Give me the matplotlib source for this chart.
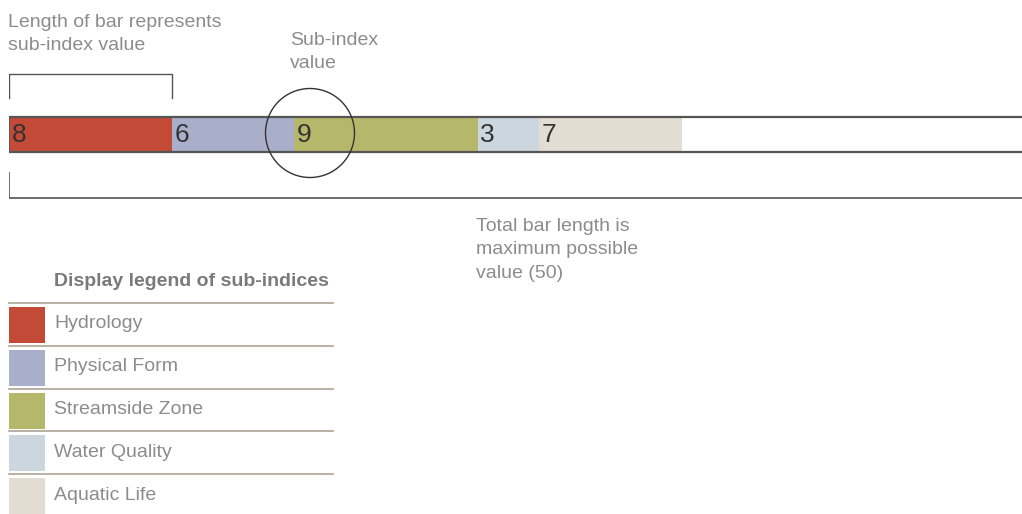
import matplotlib.pyplot as plt
from matplotlib.patches import Circle, Rectangle

# sub-index data
categories = ['Hydrology', 'Physical Form', 'Streamside Zone', 'Water Quality', 'Aquatic Life']
values = [8, 6, 9, 3, 7]
max_value = 50
colors = ['#C24A37', '#A9AECB', '#B5B76A', '#CBD6DF', '#E3DCD2']

plt.rcParams['font.family'] = ['Liberation Sans', 'DejaVu Sans']
grey = '#8C8C8C'
dark = '#555555'

fig = plt.figure(figsize=(10.22, 5.14), dpi=100)

# bar axes: x in index units, y in pixels (top down)
ax = fig.add_axes([9 / 1022, 0, 1 - 9 / 1022, 1])
ax.set_xlim(0, 49.7)
ax.set_ylim(514, 0)
ax.axis('off')

left = 0
for v, c in zip(values, colors):
    ax.barh(133.5, v, left=left, height=35, color=c, edgecolor='none')
    ax.text(left + 0.12, 135, str(v), fontsize=19, color='#333333',
            va='center', ha='left')
    left += v

# bar outline
ax.plot([0, max_value], [116.5, 116.5], color=dark, lw=1.6)
ax.plot([0, max_value], [151.5, 151.5], color=dark, lw=1.6)
ax.plot([0, 0], [116.5, 151.5], color=dark, lw=1.2)

# bracket over the first segment
ax.plot([0, 0, values[0], values[0]], [98, 74, 74, 98], color=dark, lw=1.0)
# bracket under the full bar
ax.plot([0, 0, max_value], [173, 198, 198], color=dark, lw=1.2)

# overlay axes in pixel coordinates
ov = fig.add_axes([0, 0, 1, 1])
ov.set_xlim(0, 1022)
ov.set_ylim(514, 0)
ov.axis('off')
ov.patch.set_alpha(0)

ov.add_patch(Circle((310, 133), 44.5, fill=False, edgecolor='#333333', lw=1.0))

ov.text(8, 34, 'Length of bar represents\nsub-index value', fontsize=14, color=grey,
        va='center', ha='left', linespacing=1.5)
ov.text(290, 52, 'Sub-index\nvalue', fontsize=14, color=grey,
        va='center', ha='left', linespacing=1.5)
ov.text(476, 250, 'Total bar length is\nmaximum possible\nvalue (50)', fontsize=14, color=grey,
        va='center', ha='left', linespacing=1.5)

# legend
ov.text(54, 282, 'Display legend of sub-indices', fontsize=14, color='#7A7A7A',
        fontweight='bold', va='center', ha='left')
row_top = 303
row_h = 42.8
for i, (cat, c) in enumerate(zip(categories, colors)):
    y0 = row_top + i * row_h
    ov.plot([9, 333], [y0, y0], color='#ADA394', lw=1.2)
    ov.add_patch(Rectangle((9, y0 + 4), 36, 36, color=c, lw=0))
    ov.text(54, y0 + 21, cat, fontsize=14, color=grey,
            va='center', ha='left')

plt.savefig('out.png', dpi=100)
